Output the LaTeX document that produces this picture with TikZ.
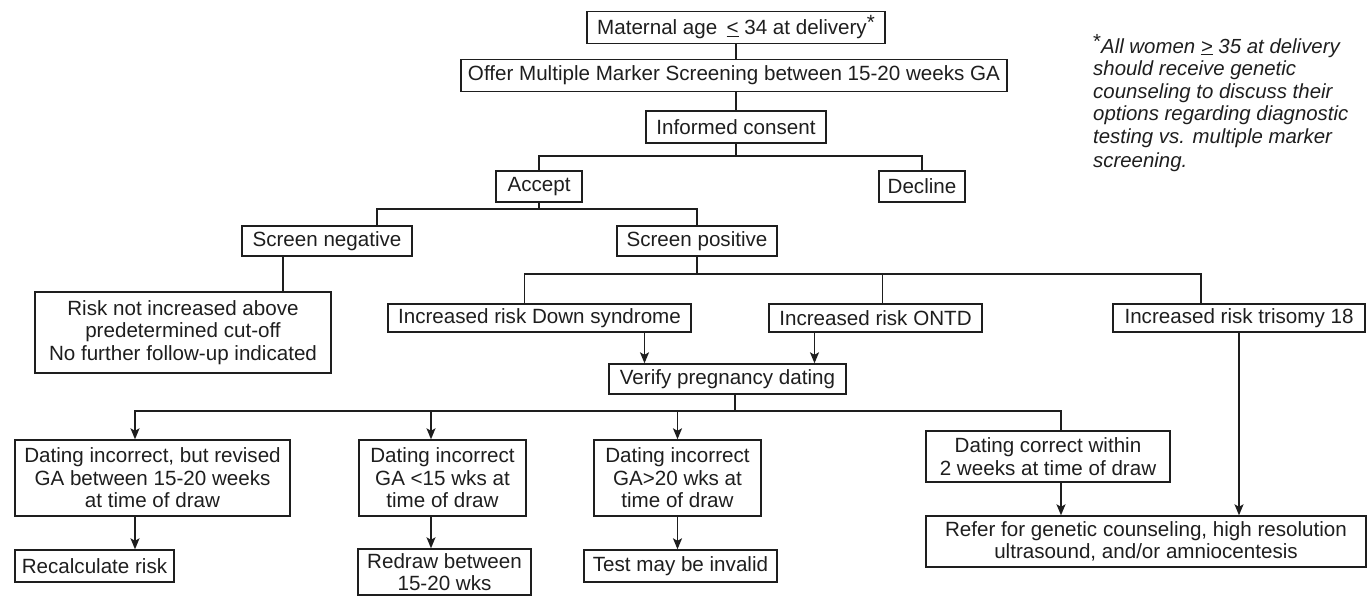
\documentclass[tikz,border=0pt]{standalone}
\usepackage{fontspec}
\setmainfont{Liberation Sans}
\usepackage{xcolor}
\usetikzlibrary{arrows.meta, positioning}

\definecolor{inkgray}{HTML}{1E1E1E}

\begin{document}
\begin{tikzpicture}[x=1pt, y=-1pt,
  box/.style={draw=inkgray, line width=1.4pt, inner sep=2pt, align=center, text=inkgray,
    font=\fontsize{20.6}{22.5}\selectfont},
  note/.style={inner sep=0pt, align=left, text=inkgray,
    font=\fontsize{20.4}{22.5}\selectfont\itshape},
  link/.style={draw=inkgray, line width=1.4pt},
  arr/.style={link, -{Stealth[length=11pt, width=9pt, inset=2.5pt]}}]
  \useasboundingbox (0,0) rectangle (1369,596);

  \node[box, minimum width=298, minimum height=32] (mat) at (736,27.5) {Maternal age \,\underline{<} 34 at delivery\raisebox{5pt}{*}};
  \node[box, minimum width=546, minimum height=32] (offer) at (734,75.5) {Offer Multiple Marker Screening between 15-20 weeks GA};
  \node[box, minimum width=180, minimum height=32] (inf) at (736,127) {Informed consent};
  \node[box, minimum width=86, minimum height=31] (acc) at (539,186.5) {Accept};
  \node[box, minimum width=86, minimum height=31] (dec) at (922,186.5) {Decline};
  \node[box, minimum width=170, minimum height=30] (neg) at (327,241) {Screen negative};
  \node[box, minimum width=160, minimum height=30] (pos) at (697,241) {Screen positive};
  \node[box, minimum width=296, minimum height=81] (risk) at (183,332.5) {Risk not increased above\\predetermined cut-off\\No further follow-up indicated};
  \node[box, minimum width=303, minimum height=28] (ds) at (539.5,318) {Increased risk Down syndrome};
  \node[box, minimum width=213, minimum height=28] (ontd) at (875.5,318) {Increased risk ONTD};
  \node[box, minimum width=252, minimum height=28] (tri) at (1239,318) {Increased risk trisomy 18};
  \node[box, minimum width=237, minimum height=30] (ver) at (727.5,379) {Verify pregnancy dating};
  \node[box, minimum width=275, minimum height=76] (d1) at (152.5,478) {Dating incorrect, but revised\\GA between 15-20 weeks\\at time of draw};
  \node[box, minimum width=167, minimum height=76] (d2) at (442.5,478) {Dating incorrect\\GA <15 wks at\\time of draw};
  \node[box, minimum width=167, minimum height=76] (d3) at (677.5,478) {Dating incorrect\\GA>20 wks at\\time of draw};
  \node[box, minimum width=244, minimum height=51] (d4) at (1048,456.5) {Dating correct within\\2 weeks at time of draw};
  \node[box, minimum width=159, minimum height=32] (rec) at (94.5,566) {Recalculate risk};
  \node[box, minimum width=173, minimum height=46] (red) at (444.5,572) {Redraw between\\15-20 wks};
  \node[box, minimum width=193, minimum height=32] (test) at (680.5,566) {Test may be invalid};
  \node[box, minimum width=440, minimum height=51] (ref) at (1146,541.5) {Refer for genetic counseling, high resolution\\ultrasound, and/or amniocentesis};

  \node[note, anchor=north west] (fn) at (1093,34) {\raisebox{5pt}{\upshape*}All women \underline{>} 35 at delivery\\should receive genetic\\counseling to discuss their\\options regarding diagnostic\\testing vs. multiple marker\\[2pt]screening.};

  \coordinate (b1) at (736,156);
  \coordinate (b2) at (539,209);
  \coordinate (b3) at (697,274);
  \coordinate (b4) at (735,411);

  \draw[link] (mat.south) -- (mat.south |- offer.north);
  \draw[link] (inf.north |- offer.south) -- (inf.north);
  \draw[link] (inf) -- (b1);
  \draw[link] (acc.north) |- (b1) -| (dec.north);
  \draw[link] (acc) -- (b2);
  \draw[link] ([xshift=50]neg.north) |- (b2) -| (pos.north);
  \draw[link] ([xshift=-44]neg.south) -- ([xshift=-44]neg.south |- risk.north);
  \draw[link] (pos) -- (b3);
  \draw[link] ([xshift=-15]ds.north) |- (b3) -| ([xshift=-38]tri.north);
  \draw[link] ([xshift=7]ontd.north) -- ([xshift=7]ontd.north |- b3);
  \draw[arr] ([xshift=105]ds.south) -- ([xshift=105]ds.south |- ver.north);
  \draw[arr] ([xshift=-61]ontd.south) -- ([xshift=-61]ontd.south |- ver.north);
  \draw[link] ([xshift=7.5]ver.south) -- (b4);
  \draw[arr] (b4) -| ([xshift=-17.5]d1.north);
  \draw[arr] ([xshift=-11.5]d2.north |- b4) -- ([xshift=-11.5]d2.north);
  \draw[arr] (d3.north |- b4) -- (d3.north);
  \draw[link] (b4) -| ([xshift=13]d4.north);
  \draw[arr] ([xshift=-17.5]d1.south) -- ([xshift=-17.5]d1.south |- rec.north);
  \draw[arr] ([xshift=-11.5]d2.south) -- ([xshift=-11.5]d2.south |- red.north);
  \draw[arr] (d3.south) -- (d3.south |- test.north);
  \draw[arr] ([xshift=13]d4.south) -- ([xshift=13]d4.south |- ref.north);
  \draw[arr] (tri.south) -- (tri.south |- ref.north);
\end{tikzpicture}
\end{document}
